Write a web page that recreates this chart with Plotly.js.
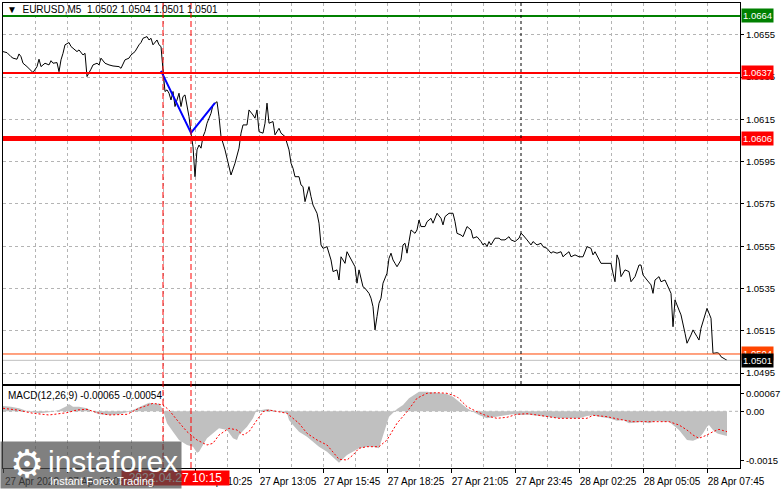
<!DOCTYPE html>
<html>
<head>
<meta charset="utf-8">
<script src="https://cdn.plot.ly/plotly-3.0.1.min.js"></script>
<style>html,body{margin:0;padding:0;background:#fff;}#chart{width:781px;height:489px;}</style>
</head>
<body>
<div id="chart"></div>
<script>
// M5 bar number counted from 27 Apr 02:25
const priceBar = [0,2,4,5,7,8,9,10,12,13,15,17,18,19,21,23,24,25,27,28,29,30,31,33,34,35,37,38,40,41,42,44,45,47,48,49,51,53,55,58,59,61,63,64,66,68,69,70,72,73,74,75,77,78,79,80,81,82,83,84,85,86,88,89,90,91,92,93,94,95,96,97,98,99,100,101,102,104,105,107,108,109,111,113,114,116,118,119,120,122,123,125,126,127,128,130,131,132,133,135,136,138,139,141,143,144,145,146,148,149,150,151,152,153,154,155,157,158,159,160,162,163,164,165,167,168,169,170,171,172,174,175,176,177,178,180,181,183,184,185,186,187,188,189,190,192,193,194,195,196,197,199,200,201,202,203,204,206,207,208,209,211,212,214,215,217,219,220,221,223,225,226,227,229,230,232,234,235,237,239,240,241,242,243,244,246,248,249,251,253,254,256,258,259,260,262,264,265,267,269,270,272,274,275,277,279,280,281,283,284,286,288,290,292,294,295,296,299,300,304,305,306,307,308,309,311,313,314,316,318,319,320,322,324,325,326,328,329,331,333,334,335,336,338,339,341,342,344,345,347,348,349,351,352,354,355,357,358,359,361,362];
const priceClose = [1.06471,1.06466,1.06447,1.06440,1.06435,1.06460,1.06447,1.06416,1.06400,1.06392,1.06372,1.06400,1.06435,1.06400,1.06416,1.06408,1.06428,1.06416,1.06419,1.06376,1.06432,1.06463,1.06503,1.06514,1.06495,1.06487,1.06471,1.06479,1.06455,1.06463,1.06353,1.06388,1.06408,1.06416,1.06408,1.06440,1.06416,1.06408,1.06403,1.06400,1.06392,1.06432,1.06440,1.06455,1.06471,1.06503,1.06514,1.06534,1.06542,1.06526,1.06534,1.06503,1.06526,1.06503,1.06495,1.06384,1.06282,1.06290,1.06274,1.06242,1.06282,1.06211,1.06274,1.06211,1.06258,1.06266,1.06219,1.06163,1.06085,1.06021,1.05879,1.06006,1.06029,1.06014,1.06069,1.06092,1.06132,1.06179,1.06219,1.06234,1.06163,1.06069,1.06006,1.05927,1.05887,1.05943,1.06014,1.06085,1.06124,1.06124,1.06195,1.06171,1.06156,1.06195,1.06092,1.06085,1.06132,1.06227,1.06132,1.06140,1.06077,1.06108,1.06085,1.06069,1.06006,1.05943,1.05919,1.05879,1.05879,1.05840,1.05832,1.05761,1.05801,1.05832,1.05785,1.05745,1.05706,1.05659,1.05556,1.05540,1.05548,1.05517,1.05485,1.05430,1.05438,1.05390,1.05500,1.05485,1.05469,1.05524,1.05485,1.05469,1.05453,1.05375,1.05438,1.05358,1.05351,1.05327,1.05304,1.05264,1.05154,1.05217,1.05280,1.05304,1.05375,1.05422,1.05493,1.05517,1.05485,1.05469,1.05453,1.05485,1.05556,1.05564,1.05517,1.05572,1.05627,1.05611,1.05627,1.05674,1.05643,1.05643,1.05666,1.05682,1.05659,1.05706,1.05682,1.05651,1.05690,1.05706,1.05706,1.05666,1.05611,1.05603,1.05595,1.05643,1.05627,1.05588,1.05595,1.05572,1.05556,1.05564,1.05548,1.05572,1.05556,1.05588,1.05588,1.05580,1.05580,1.05595,1.05580,1.05572,1.05588,1.05611,1.05603,1.05580,1.05556,1.05572,1.05556,1.05564,1.05548,1.05540,1.05517,1.05524,1.05517,1.05524,1.05500,1.05509,1.05524,1.05500,1.05509,1.05500,1.05500,1.05548,1.05540,1.05509,1.05524,1.05469,1.05469,1.05469,1.05422,1.05382,1.05509,1.05485,1.05406,1.05438,1.05430,1.05382,1.05406,1.05461,1.05461,1.05414,1.05390,1.05367,1.05327,1.05390,1.05406,1.05382,1.05390,1.05351,1.05327,1.05169,1.05296,1.05248,1.05225,1.05138,1.05091,1.05130,1.05154,1.05122,1.05106,1.05162,1.05225,1.05256,1.05209,1.05043,1.05046,1.05043,1.05027,1.05015,1.05010];

const zigBar = [79, 94, 106];
const zigPrice = [1.06380, 1.06086, 1.06228];

const histBar = [0,4,8,13,18,23,28,32,33,35,38,42,45,48,53,58,63,67,70,73,77,78,80,82,85,88,92,95,97,98,100,102,105,108,112,115,117,118,122,125,127,128,132,135,138,142,143,145,148,152,155,158,162,165,168,172,175,178,182,185,188,190,192,193,197,200,203,207,208,212,217,222,225,228,232,235,238,242,245,248,252,255,258,263,268,273,278,283,288,292,295,298,303,307,310,313,317,320,323,327,330,333,335,337,338,342,345,348,350,352,353,355,357,358,362];
const histVal = [0.000141,0.000123,0.000080,-0.000010,-0.000052,-0.000026,0.000035,0.000141,0.000194,0.000123,0.000123,0.000080,-0.000010,-0.000079,-0.000097,-0.000079,-0.000010,0.000080,0.000167,0.000228,0.000194,0.000212,0.000035,-0.000317,-0.000539,-0.000759,-0.000891,-0.000936,-0.001095,-0.001068,-0.000891,-0.000714,-0.000582,-0.000449,-0.000494,-0.000714,-0.000759,-0.000627,-0.000407,-0.000185,0.000061,0.000024,0.000061,0.000035,-0.000010,-0.000052,-0.000230,-0.000362,-0.000539,-0.000671,-0.000804,-0.000936,-0.001068,-0.001201,-0.001359,-0.001156,-0.001068,-0.000978,-0.000936,-0.000936,-0.000978,-0.000627,-0.000317,-0.000142,0.000061,0.000167,0.000345,0.000477,0.000519,0.000519,0.000493,0.000458,0.000387,0.000255,0.000080,-0.000010,-0.000097,-0.000185,-0.000158,-0.000116,-0.000097,-0.000079,-0.000097,-0.000089,-0.000124,-0.000142,-0.000185,-0.000185,-0.000185,-0.000124,-0.000105,-0.000142,-0.000185,-0.000248,-0.000230,-0.000317,-0.000301,-0.000274,-0.000317,-0.000248,-0.000274,-0.000274,-0.000362,-0.000449,-0.000494,-0.000759,-0.000777,-0.000714,-0.000582,-0.000407,-0.000362,-0.000494,-0.000582,-0.000600,-0.000650];

const sigBar = [0,7,15,23,32,37,42,47,53,62,68,75,80,83,87,92,97,102,105,108,113,117,120,123,127,130,133,138,142,145,148,152,157,162,165,168,172,175,178,182,188,192,197,202,207,212,217,222,227,232,237,242,247,252,257,262,267,272,278,285,292,295,302,308,315,322,328,333,338,342,345,348,352,355,358,362];
const sigVal = [0.000080,0.000035,-0.000052,-0.000097,-0.000036,0.000035,0.000053,-0.000036,-0.000097,-0.000079,0.000080,0.000212,0.000167,0.000035,-0.000230,-0.000539,-0.000759,-0.000891,-0.000846,-0.000627,-0.000449,-0.000494,-0.000627,-0.000539,-0.000230,-0.000010,0.000035,-0.000010,-0.000052,-0.000185,-0.000317,-0.000582,-0.000759,-0.000891,-0.001068,-0.001269,-0.001288,-0.001156,-0.000978,-0.000936,-0.000936,-0.000759,-0.000317,-0.000010,0.000345,0.000477,0.000493,0.000477,0.000387,0.000123,-0.000010,-0.000124,-0.000185,-0.000158,-0.000079,-0.000063,-0.000097,-0.000142,-0.000185,-0.000185,-0.000185,-0.000105,-0.000142,-0.000211,-0.000274,-0.000274,-0.000274,-0.000274,-0.000362,-0.000494,-0.000627,-0.000714,-0.000627,-0.000539,-0.000477,-0.000540];

const xLabelBars = [0,32,64,96,128,160,192,224,256,288,320,352];
const xLabelText = ['27 Apr 2022','27 Apr 05:05','27 Apr 07:45','27 Apr 10:25','27 Apr 13:05','27 Apr 15:45','27 Apr 18:25','27 Apr 21:05','27 Apr 23:45','28 Apr 02:25','28 Apr 05:05','28 Apr 07:45'];
const priceTickVals = [1.0495,1.0515,1.0535,1.0555,1.0575,1.0595,1.0615,1.0635,1.0655];
const priceTickText = ['1.0495','1.0515','1.0535','1.0555','1.0575','1.0595','1.0615','1.0635','1.0655'];
const macdTickVals = [0.00046, 0, -0.00131];
const macdTickText = ['0.00067','0.00','-0.0015'];

const levelPrices = [1.0664, 1.0637, 1.0606, 1.0504];
const levelLabels = ['1.0664','1.0637','1.0606','1.0504'];
const bidPrice = 1.0501;
const bidLabel = '1.0501';
const markerBars = [80, 94];
const daySepBar = 259;
const header = 'EURUSD,M5&nbsp;&nbsp;1.0502 1.0504 1.0501 1.0501';
const macdTitle = 'MACD(12,26,9) -0.00065 -0.00054';
const crossLabel = '2022.04.27 10:15';

// ---- styling ----
const F = 'Liberation Sans, Arial, sans-serif';
const levelColors = ['#008000', '#ff0000', '#ff0000', '#ff4500'];
const levelWidths = [2, 2, 5, 1];
const W = 781, H = 489, ML = 3, MR = 41, MT = 3, MB = 21;
const PW = W - ML - MR, PH = H - MT - MB;
const px = (x) => (x - ML) / PW;
const py = (y) => (H - MB - y) / PH;

const grid = {showgrid: true, gridcolor: '#b4b4b4', gridwidth: 1, griddash: '3px,3px'};
const minorGrid = {tick0: 0, dtick: 16, showgrid: true, gridcolor: '#b4b4b4', griddash: '3px,3px', ticks: ''};

const traces = [
  {x: histBar, y: histVal, xaxis: 'x', yaxis: 'y2', type: 'scatter', mode: 'lines',
   fill: 'tozeroy', fillcolor: '#c0c0c0', line: {width: 0, color: '#c0c0c0'}, hoverinfo: 'skip'},
  {x: sigBar, y: sigVal, xaxis: 'x', yaxis: 'y2', type: 'scatter', mode: 'lines',
   line: {color: '#ff0000', width: 1, dash: '2px,2px'}},
  {x: priceBar, y: priceClose, xaxis: 'x2', yaxis: 'y', type: 'scatter', mode: 'lines',
   line: {color: '#000000', width: 1}},
  {x: zigBar, y: zigPrice, xaxis: 'x2', yaxis: 'y', type: 'scatter', mode: 'lines',
   line: {color: '#0000ff', width: 2}}
];

const shapes = [];
levelPrices.forEach((p, k) => shapes.push({type: 'line', xref: 'paper', yref: 'y', x0: 0, x1: 1, y0: p, y1: p,
  line: {color: levelColors[k], width: levelWidths[k]}, layer: 'above'}));
shapes.push({type: 'line', xref: 'paper', yref: 'y', x0: 0, x1: 1, y0: bidPrice, y1: bidPrice,
  line: {color: '#c0c0c0', width: 1}, layer: 'above'});
markerBars.forEach(b => shapes.push({type: 'line', xref: 'x', yref: 'paper', x0: b, x1: b, y0: 0, y1: 1,
  line: {color: '#ff0000', width: 1, dash: '6px,3px'}, layer: 'above'}));
shapes.push({type: 'line', xref: 'x', yref: 'paper', x0: daySepBar, x1: daySepBar, y0: py(384), y1: 1,
  line: {color: '#000000', width: 1, dash: '3px,3px'}, layer: 'above'});
shapes.push({type: 'line', xref: 'paper', yref: 'y2', x0: 0, x1: 1, y0: 0, y1: 0,
  line: {color: '#b4b4b4', width: 1, dash: '3px,3px'}, layer: 'below'});

const annotations = [];
annotations.push({xref: 'paper', yref: 'paper', x: px(5), y: py(10), xanchor: 'left', yanchor: 'middle',
  text: '<span style="font-size:10px">▼</span>&nbsp;&nbsp;' + header, showarrow: false,
  font: {family: F, size: 10, color: '#000'}});
annotations.push({xref: 'paper', yref: 'paper', x: px(6), y: py(395), xanchor: 'left', yanchor: 'middle',
  text: macdTitle, showarrow: false, font: {family: F, size: 10, color: '#000'}});
levelPrices.forEach((p, k) => annotations.push({xref: 'paper', yref: 'y', x: 1, y: p, xanchor: 'left', yanchor: 'middle',
  xshift: 1, text: levelLabels[k], showarrow: false, bgcolor: levelColors[k], borderpad: 1,
  font: {family: F, size: 9.5, color: '#ffffff'}}));
annotations.push({xref: 'paper', yref: 'y', x: 1, y: bidPrice, xanchor: 'left', yanchor: 'middle',
  xshift: 1, text: bidLabel, showarrow: false, bgcolor: '#000000', borderpad: 1,
  font: {family: F, size: 9.5, color: '#ffffff'}});
annotations.push({xref: 'x', yref: 'paper', x: markerBars[1], y: py(478.5), xanchor: 'right', yanchor: 'middle',
  xshift: 39, text: crossLabel, showarrow: false, bgcolor: '#ff0000', borderpad: 0, width: 107, height: 14,
  font: {family: F, size: 12, color: '#ffffff'}});
// watermark
annotations.push({xref: 'paper', yref: 'paper', x: px(0), y: py(489), xanchor: 'left', yanchor: 'bottom',
  text: '&nbsp;', width: 180, height: 46, borderpad: 0, showarrow: false, bgcolor: 'rgba(74,74,74,0.7)',
  font: {family: F, size: 10, color: '#fff'}});
annotations.push({xref: 'paper', yref: 'paper', x: px(27), y: py(464), xanchor: 'center', yanchor: 'middle',
  text: '⚙', showarrow: false, font: {family: 'DejaVu Sans', size: 38, color: '#ffffff'}});
annotations.push({xref: 'paper', yref: 'paper', x: px(46), y: py(461), xanchor: 'left', yanchor: 'middle',
  text: 'instaforex', showarrow: false, font: {family: F, size: 30, color: '#ffffff'}});
annotations.push({xref: 'paper', yref: 'paper', x: px(48), y: py(481), xanchor: 'left', yanchor: 'middle',
  text: 'Instant Forex Trading', showarrow: false, font: {family: F, size: 11, color: '#ffffff'}});

const layout = {
  width: W, height: H, margin: {l: ML, r: MR, t: MT, b: MB, pad: 0},
  paper_bgcolor: '#ffffff', plot_bgcolor: '#ffffff', showlegend: false,
  xaxis: Object.assign({domain: [0, 1], anchor: 'y2', range: [0, 368.5], tickmode: 'array',
    tickvals: xLabelBars, ticktext: xLabelText, ticks: 'outside', ticklen: 4, tickcolor: '#000',
    ticklabelshift: 29, tickfont: {family: F, size: 10, color: '#000'},
    showline: true, linecolor: '#000', linewidth: 1, mirror: true, zeroline: false,
    minor: minorGrid}, grid),
  xaxis2: Object.assign({domain: [0, 1], anchor: 'y', matches: 'x', range: [0, 368.5], tickmode: 'array',
    tickvals: xLabelBars, showticklabels: false, ticks: '',
    showline: true, linecolor: '#000', linewidth: 1, mirror: true, zeroline: false,
    minor: minorGrid}, grid),
  yaxis: Object.assign({domain: [py(384), 1], anchor: 'x2', side: 'right', range: [1.04898, 1.06701],
    tickmode: 'array', tickvals: priceTickVals, ticktext: priceTickText, ticks: 'outside', ticklen: 3,
    ticklabelstandoff: 0, tickcolor: '#000', tickfont: {family: F, size: 9.5, color: '#000'},
    showline: true, linecolor: '#000', linewidth: 1, mirror: true, zeroline: false}, grid),
  yaxis2: {domain: [0, py(386)], anchor: 'x', side: 'right', range: [-0.0015, 0.00067],
    tickmode: 'array', tickvals: macdTickVals, ticktext: macdTickText, ticks: 'outside', ticklen: 3,
    ticklabelstandoff: 0, tickcolor: '#000', tickfont: {family: F, size: 9.5, color: '#000'}, showgrid: false,
    showline: true, linecolor: '#000', linewidth: 1, mirror: true, zeroline: false},
  shapes: shapes, annotations: annotations
};

Plotly.newPlot('chart', traces, layout, {staticPlot: true, displayModeBar: false});
</script>
</body>
</html>
